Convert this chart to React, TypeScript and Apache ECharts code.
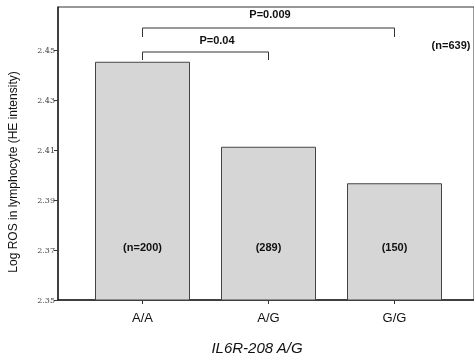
import React, { useEffect, useRef } from "react";
import * as echarts from "echarts";

const categories = ["A/A", "A/G", "G/G"];
const values = [2.4453, 2.4113, 2.3967];
const nLabels = ["(n=200)", "(289)", "(150)"];
const yMin = 2.35;
const yMax = 2.4672;
const yInterval = 0.02;
// bracket levels
const bracketOuter = { from: 0, to: 2, top: 2.4588, end: 2.4552, label: "P=0.009" };
const bracketInner = { from: 0, to: 1, top: 2.4492, end: 2.446, label: "P=0.04" };
const totalLabel = "(n=639)";
const xTitle = "IL6R-208 A/G";
const yTitle = "Log ROS in lymphocyte (HE intensity)";

const FONT = "'Liberation Sans', Arial, Helvetica, sans-serif";

export default function App() {
  const ref = useRef<HTMLDivElement>(null);
  useEffect(() => {
    const chart = echarts.init(ref.current!, null, { renderer: "svg" });
    const bracket = (b: typeof bracketOuter) => [
      [b.from, b.end],
      [b.from, b.top],
      [b.to, b.top],
      [b.to, b.end],
    ];
    chart.setOption({
      animation: false,
      textStyle: { fontFamily: FONT },
      grid: [
        { left: 58, top: 7, right: -4, bottom: 57, show: true, borderColor: "#333", borderWidth: 1, backgroundColor: "transparent" },
        { left: 79.5, top: 7, right: 16.5, bottom: 57 },
      ],
      xAxis: [
        {
          gridIndex: 0, type: "value", min: 0, max: 1,
          axisLine: { show: true, onZero: false, lineStyle: { color: "#222", width: 1.5 } },
          axisTick: { show: false }, axisLabel: { show: false }, splitLine: { show: false },
        },
        {
          gridIndex: 1, type: "category", data: categories,
          axisLine: { show: false },
          axisTick: { show: true, alignWithLabel: true, length: 5, lineStyle: { color: "#333", type: "dashed" } },
          axisLabel: { color: "#111", fontSize: 13, margin: 11, fontFamily: FONT },
        },
      ],
      yAxis: [
        {
          gridIndex: 0, type: "value", min: yMin, max: yMax, interval: yInterval,
          axisLine: { show: true, lineStyle: { color: "#222", width: 1.5 } },
          axisTick: { show: true, length: 4, lineStyle: { color: "#333" } },
          axisLabel: {
            fontSize: 8, color: "#444", margin: 3, showMaxLabel: false,
            fontFamily: "'DejaVu Serif', serif",
            formatter: (v: number) => v.toFixed(2),
          },
          splitLine: { show: false },
        },
        { gridIndex: 1, type: "value", min: yMin, max: yMax, show: false, splitLine: { show: false } },
      ],
      series: [
        {
          type: "bar", xAxisIndex: 1, yAxisIndex: 1, data: values, barWidth: 95,
          itemStyle: { color: "#d6d6d6", borderColor: "#444", borderWidth: 1 },
          label: {
            show: true, position: "insideBottom", distance: 48,
            formatter: (p: any) => nLabels[p.dataIndex],
            fontWeight: "bold", fontSize: 11, color: "#111", fontFamily: FONT,
          },
        },
        {
          type: "line", xAxisIndex: 1, yAxisIndex: 1, data: bracket(bracketOuter),
          symbol: "none", lineStyle: { color: "#333", width: 1 },
        },
        {
          type: "line", xAxisIndex: 1, yAxisIndex: 1, data: bracket(bracketInner),
          symbol: "none", lineStyle: { color: "#333", width: 1 },
        },
      ],
      graphic: [
        { type: "text", x: 270, y: 14, style: { text: bracketOuter.label, fontSize: 11, fontWeight: "bold", fill: "#111", align: "center", verticalAlign: "middle", font: `bold 11px ${FONT}` } },
        { type: "text", x: 217, y: 40, style: { text: bracketInner.label, fontSize: 11, fontWeight: "bold", fill: "#111", align: "center", verticalAlign: "middle", font: `bold 11px ${FONT}` } },
        { type: "text", x: 451, y: 45, style: { text: totalLabel, fill: "#111", align: "center", verticalAlign: "middle", font: `bold 11px ${FONT}` } },
        { type: "text", x: 257, y: 347, style: { text: xTitle, fill: "#111", align: "center", verticalAlign: "middle", font: `italic 15px ${FONT}` } },
        { type: "text", x: 13, y: 172, rotation: Math.PI / 2, style: { text: yTitle, fill: "#111", align: "center", verticalAlign: "middle", font: `12px ${FONT}` } },
      ],
    });
    return () => chart.dispose();
  }, []);
  return <div ref={ref} style={{ position: "fixed", left: 0, top: 0, width: 474, height: 357 }} />;
}
